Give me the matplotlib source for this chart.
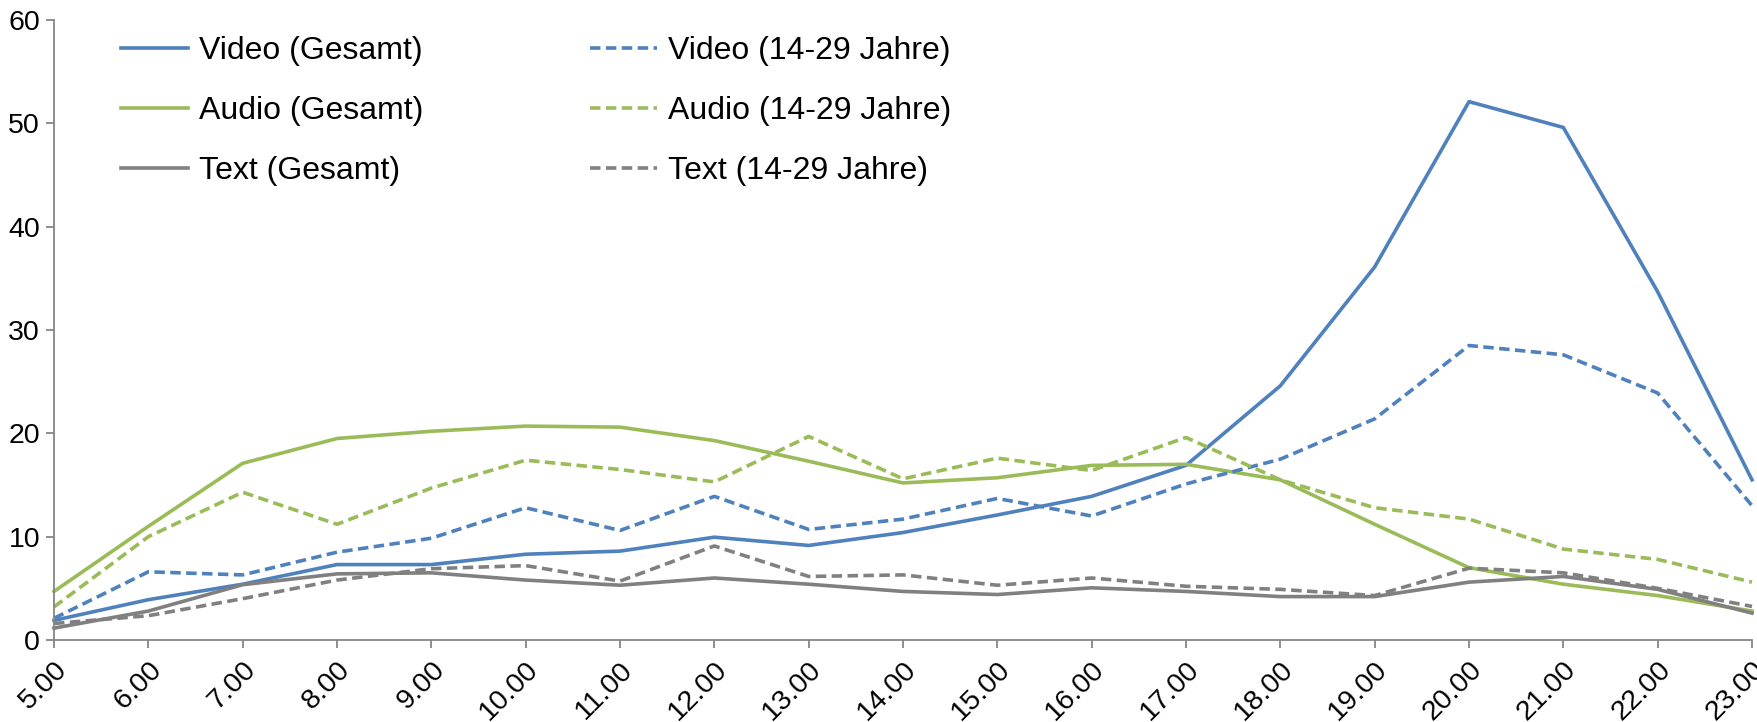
import numpy as np
import matplotlib.pyplot as plt

plt.rcParams['font.family'] = ['Liberation Sans', 'DejaVu Sans']

# Uhrzeit-Kategorien
hours = ['5.00', '6.00', '7.00', '8.00', '9.00', '10.00', '11.00', '12.00', '13.00',
         '14.00', '15.00', '16.00', '17.00', '18.00', '19.00', '20.00', '21.00',
         '22.00', '23.00']

video_total = [1.9, 3.9, 5.4, 7.3, 7.3, 8.3, 8.6, 9.95, 9.15, 10.4, 12.1, 13.9,
               16.9, 24.6, 36.1, 52.1, 49.6, 33.7, 15.5]
audio_total = [4.7, 11.0, 17.1, 19.5, 20.2, 20.7, 20.6, 19.3, 17.3, 15.2, 15.7, 16.9,
               17.0, 15.5, 11.2, 7.0, 5.4, 4.3, 2.8]
text_total = [1.15, 2.8, 5.35, 6.4, 6.5, 5.8, 5.3, 6.0, 5.4, 4.7, 4.4, 5.05,
              4.7, 4.2, 4.2, 5.6, 6.15, 4.9, 2.6]

video_young = [2.1, 6.6, 6.3, 8.5, 9.85, 12.8, 10.6, 13.9, 10.7, 11.7, 13.7, 12.0,
               15.1, 17.5, 21.4, 28.5, 27.6, 23.9, 13.0]
audio_young = [3.2, 10.0, 14.3, 11.2, 14.7, 17.4, 16.5, 15.3, 19.7, 15.6, 17.6, 16.4,
               19.6, 15.5, 12.8, 11.7, 8.8, 7.8, 5.6]
text_young = [1.6, 2.35, 4.0, 5.8, 6.9, 7.2, 5.7, 9.1, 6.15, 6.3, 5.3, 6.0,
              5.2, 4.9, 4.3, 6.95, 6.5, 5.0, 3.25]

blue = '#4F81BD'
green = '#9BBB59'
grey = '#808080'
axis_col = '#868686'

fig = plt.figure(figsize=(17.58, 7.22), dpi=100)
ax = fig.add_axes([54/1758, 1 - 640/722, (1752 - 54)/1758, (640 - 20)/722])

x = np.arange(len(hours))
lw = 2.6
dash = (2.9, 1.5)

# Linien
series = [
    (video_total, blue, 'Video (Gesamt)', False),
    (audio_total, green, 'Audio (Gesamt)', False),
    (text_total, grey, 'Text (Gesamt)', False),
    (video_young, blue, 'Video (14-29 Jahre)', True),
    (audio_young, green, 'Audio (14-29 Jahre)', True),
    (text_young, grey, 'Text (14-29 Jahre)', True),
]
handles = []
for vals, col, lab, dashed in series:
    if dashed:
        h, = ax.plot(x, vals, color=col, lw=lw, dashes=dash, label=lab, clip_on=False)
    else:
        h, = ax.plot(x, vals, color=col, lw=lw, label=lab, clip_on=False)
    handles.append(h)

ax.set_xlim(0, len(hours) - 1)
ax.set_ylim(0, 60)
ax.set_yticks(np.arange(0, 61, 10))
ax.set_xticks(x)
ax.set_xticklabels(hours, rotation=45, ha='right', va='top', rotation_mode='anchor')

for s in ['top', 'right']:
    ax.spines[s].set_visible(False)
for s in ['left', 'bottom']:
    ax.spines[s].set_color(axis_col)
    ax.spines[s].set_linewidth(1.3)
ax.tick_params(axis='both', colors=axis_col, labelcolor='black', labelsize=20.5,
               length=6, width=1.3, direction='out')
ax.tick_params(axis='y', pad=4)
ax.tick_params(axis='x', pad=6)

leg = ax.legend(handles=handles, ncol=2, loc='upper left',
                bbox_to_anchor=(121/1758, 1 - 36/722), bbox_transform=fig.transFigure,
                frameon=False, fontsize=23, handlelength=2.1, handletextpad=0.35,
                columnspacing=5.2, labelspacing=0.94, borderaxespad=0, borderpad=0)

fig.savefig('out.png', dpi=100)
